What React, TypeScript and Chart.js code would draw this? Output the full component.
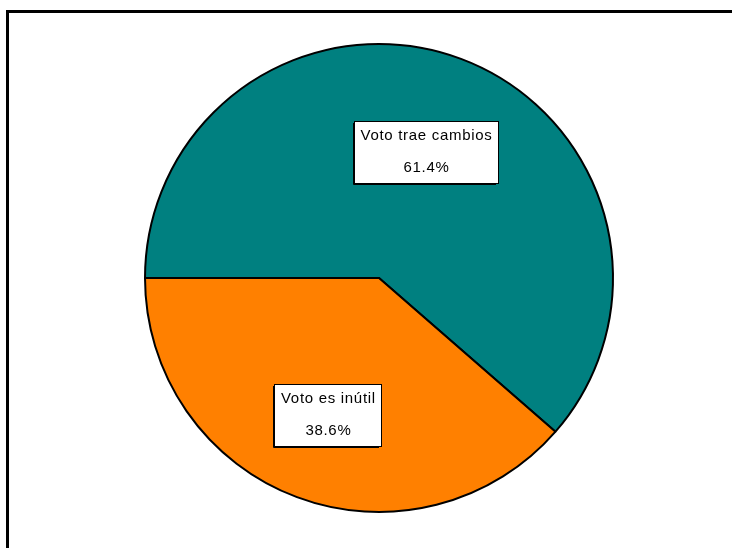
import React, { useEffect, useRef } from "react";
import { Chart, registerables } from "chart.js";

Chart.register(...registerables);

const categories = ["Voto trae cambios", "Voto es inútil"];
const values = [61.4, 38.6];
const percentLabels = ["61.4%", "38.6%"];
const colors = ["#008080", "#FF8000"];

const framePlugin = {
  id: "frame",
  beforeDraw(chart: any) {
    const ctx = chart.ctx;
    ctx.save();
    ctx.fillStyle = "#ffffff";
    ctx.fillRect(0, 0, chart.width, chart.height);
    ctx.strokeStyle = "#000000";
    ctx.lineWidth = 3;
    ctx.strokeRect(7.5, 11.5, chart.width + 20, chart.height + 20);
    ctx.restore();
  },
};

const labelPlugin = {
  id: "boxLabels",
  afterDatasetsDraw(chart: any) {
    const ctx = chart.ctx;
    const meta = chart.getDatasetMeta(0);
    const fractions = [0.573, 0.623];
    ctx.save();
    ctx.font = "15px 'Liberation Sans', Arial, sans-serif";
    (ctx as any).letterSpacing = "0.7px";
    ctx.textAlign = "center";
    ctx.textBaseline = "middle";
    meta.data.forEach((arc: any, i: number) => {
      const p = arc.getProps(["x", "y", "startAngle", "endAngle", "outerRadius"], true);
      const mid = (p.startAngle + p.endAngle) / 2;
      const r = p.outerRadius * fractions[i];
      const cx = p.x + Math.cos(mid) * r;
      const cy = p.y + Math.sin(mid) * r;
      const w1 = ctx.measureText(categories[i]).width;
      const w2 = ctx.measureText(percentLabels[i]).width;
      const w = Math.round(Math.max(w1, w2) + 12);
      const h = 62;
      const left = Math.round(cx - w / 2);
      const top = Math.round(cy - h / 2);
      ctx.fillStyle = "#ffffff";
      ctx.fillRect(left, top, w, h);
      ctx.strokeStyle = "#000000";
      ctx.lineWidth = 1;
      ctx.strokeRect(left + 0.5, top + 0.5, w, h);
      ctx.beginPath();
      ctx.moveTo(left - 0.5, top + 2);
      ctx.lineTo(left - 0.5, top + h + 1.5);
      ctx.lineTo(left + w - 2, top + h + 1.5);
      ctx.stroke();
      ctx.fillStyle = "#000000";
      ctx.fillText(categories[i], cx + 0.5, top + 15);
      ctx.fillText(percentLabels[i], cx + 0.5, top + 47);
    });
    ctx.restore();
  },
};

export default function App() {
  const ref = useRef<HTMLCanvasElement | null>(null);
  useEffect(() => {
    if (!ref.current) return;
    const chart = new Chart(ref.current, {
      type: "pie",
      data: {
        labels: categories,
        datasets: [
          {
            data: values,
            backgroundColor: colors,
            borderColor: "#000000",
            borderWidth: 2,
          },
        ],
      },
      options: {
        responsive: false,
        animation: false,
        rotation: -90,
        layout: { padding: { left: 26, right: 0, top: 43, bottom: 35 } },
        plugins: {
          legend: { display: false },
          tooltip: { enabled: false },
          title: { display: false },
        },
      },
      plugins: [framePlugin, labelPlugin],
    });
    return () => chart.destroy();
  }, []);
  return (
    <div style={{ position: "fixed", left: 0, top: 0, width: 732, height: 548 }}>
      <canvas ref={ref} width={732} height={548} />
    </div>
  );
}
